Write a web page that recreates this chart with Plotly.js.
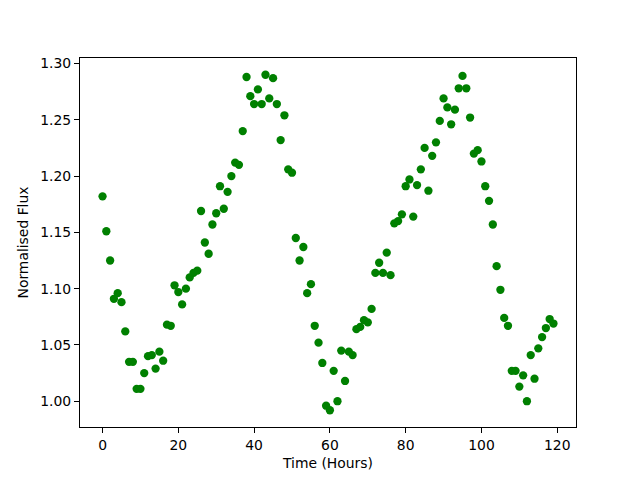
<!DOCTYPE html>
<html>
<head>
<meta charset="utf-8">
<script src="https://cdn.plot.ly/plotly-3.0.1.min.js"></script>
<style>html,body{margin:0;padding:0;background:#fff;}#chart{width:640px;height:480px;}</style>
</head>
<body>
<div id="chart"></div>
<script>
const timeHours = Array.from({length: 120}, (_, i) => i);
const normalisedFlux = [
  1.182, 1.151, 1.125, 1.091, 1.096, 1.088, 1.062, 1.035, 1.035, 1.011,
  1.011, 1.025, 1.040, 1.041, 1.029, 1.044, 1.036, 1.068, 1.067, 1.103,
  1.097, 1.086, 1.100, 1.110, 1.114, 1.116, 1.169, 1.141, 1.131, 1.157,
  1.167, 1.191, 1.171, 1.186, 1.200, 1.212, 1.210, 1.240, 1.288, 1.271,
  1.264, 1.277, 1.264, 1.290, 1.269, 1.287, 1.264, 1.232, 1.254, 1.206,
  1.203, 1.145, 1.125, 1.137, 1.096, 1.104, 1.067, 1.052, 1.034, 0.996,
  0.992, 1.027, 1.000, 1.045, 1.018, 1.044, 1.041, 1.064, 1.066, 1.072,
  1.070, 1.082, 1.114, 1.123, 1.114, 1.132, 1.112, 1.158, 1.160, 1.166,
  1.191, 1.197, 1.164, 1.192, 1.206, 1.225, 1.187, 1.218, 1.230, 1.249,
  1.269, 1.261, 1.246, 1.259, 1.278, 1.289, 1.278, 1.252, 1.220, 1.223,
  1.213, 1.191, 1.178, 1.157, 1.120, 1.099, 1.074, 1.067, 1.027, 1.027,
  1.013, 1.023, 1.000, 1.041, 1.020, 1.047, 1.057, 1.065, 1.073, 1.069
];
const xTicks = [0, 20, 40, 60, 80, 100, 120];
const yTicks = [1.00, 1.05, 1.10, 1.15, 1.20, 1.25, 1.30];
const xLabel = 'Time (Hours)';
const yLabel = 'Normalised Flux';

const font = {family: 'DejaVu Sans, sans-serif', size: 13.9, color: '#000'};

const axisCommon = {
  showgrid: false, zeroline: false, showline: true, mirror: true,
  linecolor: '#000', linewidth: 1.1,
  ticks: 'outside', ticklen: 4.9, tickwidth: 1.1, tickcolor: '#000',
  tickfont: font, tickmode: 'array'
};

Plotly.newPlot('chart', [{
  x: timeHours, y: normalisedFlux, type: 'scatter', mode: 'markers',
  marker: {color: '#008000', size: 8.3, line: {width: 0}},
  hoverinfo: 'skip'
}], {
  width: 640, height: 480,
  margin: {l: 80, r: 64, t: 58, b: 53, pad: 0},
  paper_bgcolor: '#fff', plot_bgcolor: '#fff',
  showlegend: false,
  font: font,
  xaxis: Object.assign({}, axisCommon, {
    range: [-5.95, 124.95], tickvals: xTicks, ticktext: xTicks.map(String),
    title: {text: xLabel, font: font, standoff: 6}
  }),
  yaxis: Object.assign({}, axisCommon, {
    range: [0.9771, 1.3049], tickvals: yTicks, ticktext: yTicks.map(v => v.toFixed(2)),
    title: {text: yLabel, font: font, standoff: 8}
  })
}, {staticPlot: true, displayModeBar: false});
</script>
</body>
</html>
